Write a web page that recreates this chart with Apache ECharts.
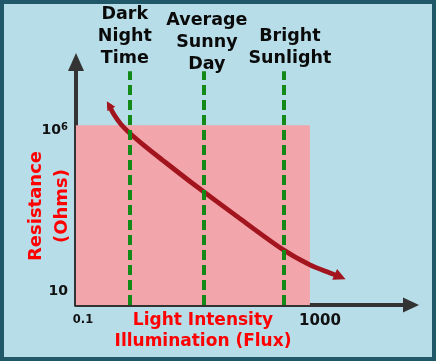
<!DOCTYPE html>
<html><head><meta charset="utf-8">
<script src="https://cdn.jsdelivr.net/npm/echarts@6/dist/echarts.min.js"></script>
<style>
html,body{margin:0;padding:0;background:#b7dde8}
#wrap{position:relative;width:436px;height:361px}
#c{width:436px;height:361px}
#frame{position:absolute;left:0;top:0;width:436px;height:361px;box-sizing:border-box;border:4px solid #215869;pointer-events:none}
</style></head><body>
<div id="wrap"><div id="c"></div><div id="frame"></div></div>
<script>
// axes are log10 exponents: x = log10(flux), y = log10(ohms)
const xTickValues = [-1, 3];
const xTickLabels = ['0.1', '1000'];
const yTickValues = [1, 6];
const yTickLabels = ['10', '10^6'];

const curveX = [-0.56, -0.48, -0.36, -0.21, 0.05, 0.33, 0.84, 1.65, 2.38, 2.83, 3.17, 3.34];
const curveY = [6.78, 6.50, 6.19, 5.91, 5.50, 5.09, 4.36, 3.25, 2.28, 1.81, 1.56, 1.44];

const zoneNames = ['Dark\nNight\nTime', 'Average\nSunny\nDay', 'Bright\nSunlight'];
const zoneX = [-0.21, 1.04, 2.39];
const zoneTop = 7.84;

const shadeXEnd = 2.83;
const shadeYTop = 6.16;

const xMin = -1.118, xMax = 4.536;
const yMin = 0.5625, yMax = 8.125;

const FONT = 'DejaVu Sans';
const labelDist = [2, -4, 2];
const labelPad = [[0, 10, 0, 0], [0, 0, 0, 6], [0, 0, 0, 12]];

const chart = echarts.init(document.getElementById('c'), null, {renderer: 'canvas'});

const curveData = curveX.map((x, i) => {
  const item = {value: [x, curveY[i]]};
  if (i === 0) { item.symbol = 'triangle'; item.symbolSize = [9, 9]; item.symbolRotate = 30; }
  if (i === curveX.length - 1) { item.symbol = 'triangle'; item.symbolSize = [12, 12]; item.symbolRotate = -114; }
  return item;
});

const option = {
  animation: false,
  backgroundColor: '#b7dde8',
  grid: {left: 76, right: 25, top: 62, bottom: 56, containLabel: false},
  xAxis: {
    type: 'value', min: xMin, max: xMax,
    splitLine: {show: false}, axisTick: {show: false},
    axisLine: {show: true, onZero: false, lineStyle: {color: '#333333', width: 4}, symbol: ['none', 'triangle'], symbolSize: [15, 16]},
    axisLabel: {
      show: true, customValues: xTickValues, margin: 9,
      formatter: v => { const i = xTickValues.indexOf(v); return i === 0 ? '{a|' + xTickLabels[i] + '}' : '{b|' + xTickLabels[i] + '}'; },
      rich: {
        a: {fontFamily: FONT, fontWeight: 'bold', fontSize: 11.5, color: '#111'},
        b: {fontFamily: FONT, fontWeight: 'bold', fontSize: 15, color: '#111'}
      }
    }
  },
  yAxis: {
    type: 'value', min: yMin, max: yMax,
    splitLine: {show: false}, axisTick: {show: false},
    axisLine: {show: true, onZero: false, lineStyle: {color: '#333333', width: 4}, symbol: ['none', 'triangle'], symbolSize: [16, 18]},
    axisLabel: {
      show: true, customValues: yTickValues, margin: 8,
      formatter: v => { const i = yTickValues.indexOf(v); const t = yTickLabels[i]; if (t.indexOf('^') >= 0) { const p = t.split('^'); return '{b|' + p[0] + '}{s|' + p[1] + '}'; } return '{b|' + t + '}'; },
      rich: {
        b: {fontFamily: FONT, fontWeight: 'bold', fontSize: 14, color: '#111', lineHeight: 16},
        s: {fontFamily: FONT, fontWeight: 'bold', fontSize: 10, color: '#111', verticalAlign: 'top', lineHeight: 16}
      }
    }
  },
  series: [
    {
      type: 'line', data: [], z: 1, silent: true,
      markArea: {
        silent: true,
        itemStyle: {color: '#f2a5aa', opacity: 1},
        data: [[{coord: [xMin, yMin]}, {coord: [shadeXEnd, shadeYTop]}]]
      }
    },
    {
      type: 'line', z: 2, smooth: 0.3, silent: true,
      symbol: 'none', showSymbol: true,
      lineStyle: {color: '#a3151e', width: 4.8},
      itemStyle: {color: '#a3151e'},
      data: curveData
    },
    {
      type: 'line', data: [], z: 3, silent: true,
      markLine: {
        silent: true, symbol: ['none', 'none'],
        lineStyle: {color: '#138a17', width: 4, type: [10, 5], opacity: 1},
        label: {show: true, position: 'end', color: '#0a0a0a', fontFamily: FONT, fontWeight: 'bold', fontSize: 17.5, lineHeight: 22, align: 'center'},
        data: zoneX.map((x, i) => [
          {coord: [x, yMin], name: zoneNames[i], label: {formatter: zoneNames[i], distance: labelDist[i], padding: labelPad[i]}},
          {coord: [x, zoneTop]}
        ])
      }
    }
  ],
  graphic: [
    {type: 'text', x: 203, y: 331, silent: true,
     style: {text: 'Light Intensity\nIllumination (Flux)', fill: '#ff0000', font: 'bold 17px "DejaVu Sans"', align: 'center', verticalAlign: 'middle', lineHeight: 21}},
    {type: 'text', x: 49, y: 206, rotation: Math.PI / 2, silent: true,
     style: {text: 'Resistance\n(Ohms)', fill: '#ff0000', font: 'bold 18px "DejaVu Sans"', align: 'center', verticalAlign: 'middle', lineHeight: 26}}
  ]
};
chart.setOption(option);
</script></body></html>
